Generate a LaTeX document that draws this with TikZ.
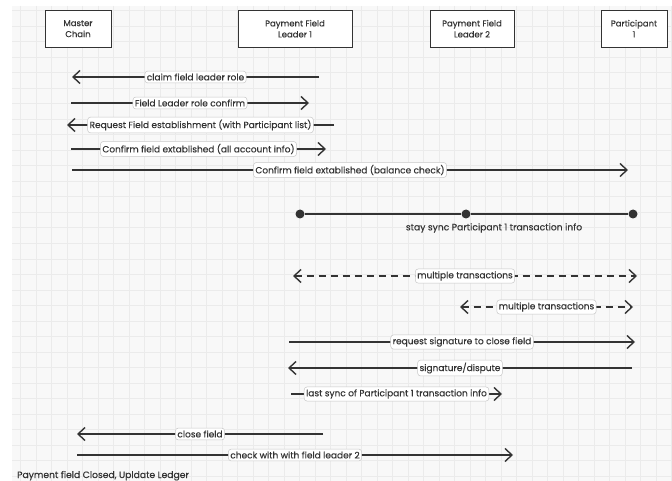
\documentclass[tikz,border=0pt]{standalone}
\usepackage{fontspec}
\setmainfont{Poppins}[FakeBold=0.25]
\usetikzlibrary{arrows.meta,shapes}

\definecolor{ink}{HTML}{333333}
\definecolor{paper}{HTML}{F8F8F8}
\definecolor{gridline}{HTML}{EBEBEB}

\tikzset{
	actor/.style={draw=ink, fill=white, line width=0.8pt, align=center, text=ink,
		minimum height=37pt, font=\fontsize{8.5}{11}\selectfont},
	msg/.style={draw=ink, line width=1.4pt, -{Straight Barb[length=7pt,width=13pt]}},
	twoway/.style={msg, {Straight Barb[length=7pt,width=13pt]}-{Straight Barb[length=7pt,width=13pt]},
		dash pattern=on 7pt off 5pt},
	lbl/.style={draw=black!22, fill=white, rounded corners=3pt, line width=0.5pt,
		inner xsep=2pt, inner ysep=2.5pt, text=ink, font=\fontsize{9}{10}\selectfont},
	syncdot/.style={circle, fill=ink, inner sep=0pt, minimum size=9pt},
	note/.style={text=ink, font=\fontsize{9.2}{10}\selectfont, inner sep=0pt}
}

\begin{document}
\begin{tikzpicture}[x=1pt, y=-1pt]

	% Paper and grid
	\useasboundingbox (0,0) rectangle (672,481);
	\fill[white] (0,0) rectangle (672,481);
	\fill[paper] (12,6) rectangle (672,481);
	\foreach \k in {0,...,42} \draw[gridline, line width=0.6pt] (20.5+15.5*\k,6) -- (20.5+15.5*\k,481);
	\foreach \k in {0,...,30} \draw[gridline, line width=0.6pt] (12,10.8+15.5*\k) -- (672,10.8+15.5*\k);

	% Actors
	\node[actor, minimum width=66pt] (mc) at (78,28.7) {Master\\Chain};
	\node[actor, minimum width=114pt] (pfl1) at (295,28.7) {Payment Field\\Leader 1};
	\node[actor, minimum width=84pt] (pfl2) at (472,28.7) {Payment Field\\Leader 2};
	\node[actor, minimum width=66pt] (pt1) at (634,28.7) {Participant\\1};

	% Message ends
	\coordinate (claimS) at (319,77);   \coordinate (claimE) at (72,77);
	\coordinate (confS) at (71,103);    \coordinate (confE) at (309,103);
	\coordinate (reqS) at (334,125);    \coordinate (reqE) at (67,125);
	\coordinate (infoS) at (71,149);    \coordinate (infoE) at (326,149);
	\coordinate (balS) at (72,170);     \coordinate (balE) at (628,170);
	\coordinate (multaS) at (293,276);  \coordinate (multaE) at (637,276);
	\coordinate (multbS) at (460,307);  \coordinate (multbE) at (633,307);
	\coordinate (sigS) at (289,342);    \coordinate (sigE) at (635,342);
	\coordinate (dispS) at (632,368);   \coordinate (dispE) at (288,368);
	\coordinate (lastS) at (291,394);   \coordinate (lastE) at (502,394);
	\coordinate (closeS) at (323,434);  \coordinate (closeE) at (77,434);
	\coordinate (checkS) at (77,455);   \coordinate (checkE) at (513,455);

	% Setting up the field
	\draw[msg] (claimS) -- node[lbl] {claim field leader role} (claimE);
	\draw[msg] (confS) -- node[lbl] {Field Leader role confirm} (confE);
	\draw[msg] (reqS) -- node[lbl] {Request Field establishment (with Participant list)} (reqE);
	\draw[msg] (infoS) -- node[lbl] {Confirm field extablished (all account info)} (infoE);
	\draw[msg] (balS) -- node[lbl] {Confirm field extablished (balance check)} (balE);

	% Staying in sync
	\node[syncdot] (sync1) at (300,214) {};
	\node[syncdot] (sync2) at (466,214) {};
	\node[syncdot] (sync3) at (633,214) {};
	\draw[ink, line width=1.4pt] (sync1) -- (sync2) -- (sync3);
	\node[note] (stay) at (494,228) {stay sync Participant 1 transaction info};

	% Transactions
	\draw[twoway] (multaS) -- node[lbl, solid] {multiple transactions} (multaE);
	\draw[twoway] (multbS) -- node[lbl, solid] {multiple transactions} (multbE);

	% Closing the field
	\draw[msg] (sigS) -- node[lbl] {request signature to close field} (sigE);
	\draw[msg] (dispS) -- node[lbl] {signature/dispute} (dispE);
	\draw[msg] (lastS) -- node[lbl] {last sync of Participant 1 transaction info} (lastE);
	\draw[msg] (closeS) -- node[lbl] {close field} (closeE);
	\draw[msg] (checkS) -- node[lbl] {check with with field leader 2} (checkE);

	\node[note, anchor=base west] (closed) at (17,478) {Payment field Closed, Upldate Ledger};

\end{tikzpicture}
\end{document}
